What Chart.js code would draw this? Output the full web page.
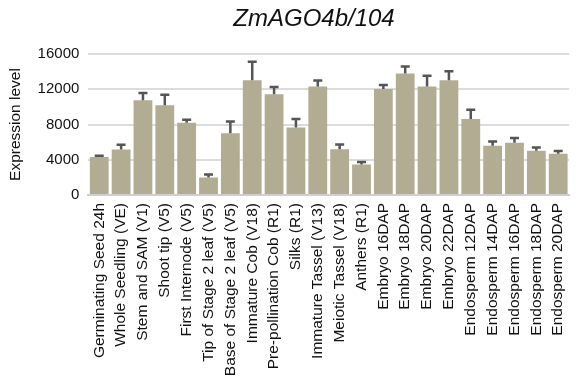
<!DOCTYPE html>
<html>
<head>
<meta charset="utf-8">
<script src="https://cdn.jsdelivr.net/npm/chart.js@4.4.1/dist/chart.umd.min.js"></script>
<style>
  html, body { margin: 0; padding: 0; background: #fff; }
  #wrap { width: 585px; height: 381px; }
</style>
</head>
<body>
<div id="wrap"><canvas id="myExpressionChart" width="585" height="381"></canvas></div>
<script>
  var chartTitle = "ZmAGO4b/104";

  var tissues = [
    "Germinating Seed 24h", "Whole Seedling (VE)", "Stem and SAM (V1)", "Shoot tip (V5)",
    "First Internode (V5)", "Tip of Stage 2 leaf (V5)", "Base of Stage 2 leaf (V5)",
    "Immature Cob (V18)", "Pre-pollination Cob (R1)", "Silks (R1)", "Immature Tassel (V13)",
    "Meiotic Tassel (V18)", "Anthers (R1)", "Embryo 16DAP", "Embryo 18DAP", "Embryo 20DAP",
    "Embryo 22DAP", "Endosperm 12DAP", "Endosperm 14DAP", "Endosperm 16DAP",
    "Endosperm 18DAP", "Endosperm 20DAP"
  ];

  var expression = [
    4300, 5170, 10750, 10190, 8200, 1990, 7000, 13030, 11430, 7670, 12320,
    5200, 3450, 12020, 13790, 12320, 13030, 8620, 5580, 5920, 5020, 4690
  ];

  // upper end of each error bar
  var errorTop = [
    4450, 5700, 11570, 11380, 8540, 2325, 8350, 15130, 12250, 8620, 13000,
    5730, 3740, 12470, 14570, 13520, 14040, 9660, 6070, 6480, 5390, 4980
  ];

  var yTicks = [0, 4000, 8000, 12000, 16000];

  var font = "'Liberation Sans', Arial, Helvetica, sans-serif";

  var errorBarPlugin = {
    id: "errorBars",
    afterDatasetsDraw: function (chart) {
      var meta = chart.getDatasetMeta(0);
      var yScale = chart.scales.y;
      var ctx = chart.ctx;
      ctx.save();
      ctx.strokeStyle = "#555555";
      ctx.lineWidth = 2.5;
      meta.data.forEach(function (bar, i) {
        var yTop = yScale.getPixelForValue(errorTop[i]);
        ctx.beginPath();
        ctx.moveTo(bar.x, bar.y);
        ctx.lineTo(bar.x, yTop);
        ctx.moveTo(bar.x - 4.5, yTop);
        ctx.lineTo(bar.x + 4.5, yTop);
        ctx.stroke();
      });
      ctx.restore();
    },
  };

  var titlePlugin = {
    id: "italicTitle",
    afterDraw: function (chart) {
      var ctx = chart.ctx;
      ctx.save();
      ctx.font = "italic 24px " + font;
      ctx.fillStyle = "#111";
      ctx.textAlign = "center";
      ctx.textBaseline = "alphabetic";
      ctx.fillText(chartTitle, 314, 26);
      ctx.restore();
    },
  };

  var canvas = document.getElementById("myExpressionChart");
  var chart = new Chart(canvas.getContext("2d"), {
    type: "bar",
    data: {
      labels: tissues,
      datasets: [
        {
          data: expression,
          backgroundColor: "#b2ac93",
          borderWidth: 0,
          barPercentage: 0.86,
          categoryPercentage: 1,
        },
      ],
    },
    options: {
      responsive: false,
      animation: false,
      devicePixelRatio: 1,
      layout: { padding: { top: 54, left: 2, right: 9, bottom: 0 } },
      plugins: {
        legend: { display: false },
        tooltip: { enabled: false },
        title: { display: false },
      },
      scales: {
        x: {
          grid: { display: false, drawTicks: false },
          border: { display: true, color: "#cfcfcf", width: 2 },
          ticks: {
            color: "#111",
            font: { family: font, size: 15.5 },
            maxRotation: 90,
            minRotation: 90,
            padding: 8,
            autoSkip: false,
          },
          afterFit: function (axis) {
            // long rotated labels need more than half the height
            axis.height = 186;
          },
        },
        y: {
          min: 0,
          max: 16000,
          afterBuildTicks: function (axis) {
            axis.ticks = yTicks.map(function (v) { return { value: v }; });
          },
          grid: { color: "#dcdcdc", lineWidth: 2, drawTicks: false },
          border: { display: false },
          ticks: {
            color: "#111",
            font: { family: font, size: 15 },
            padding: 9,
            callback: function (v) { return String(v); },
          },
          title: {
            display: true,
            text: "Expression level",
            color: "#111",
            font: { family: font, size: 15.5 },
            padding: { top: 4, bottom: 4 },
          },
        },
      },
    },
    plugins: [errorBarPlugin, titlePlugin],
  });
</script>
</body>
</html>
